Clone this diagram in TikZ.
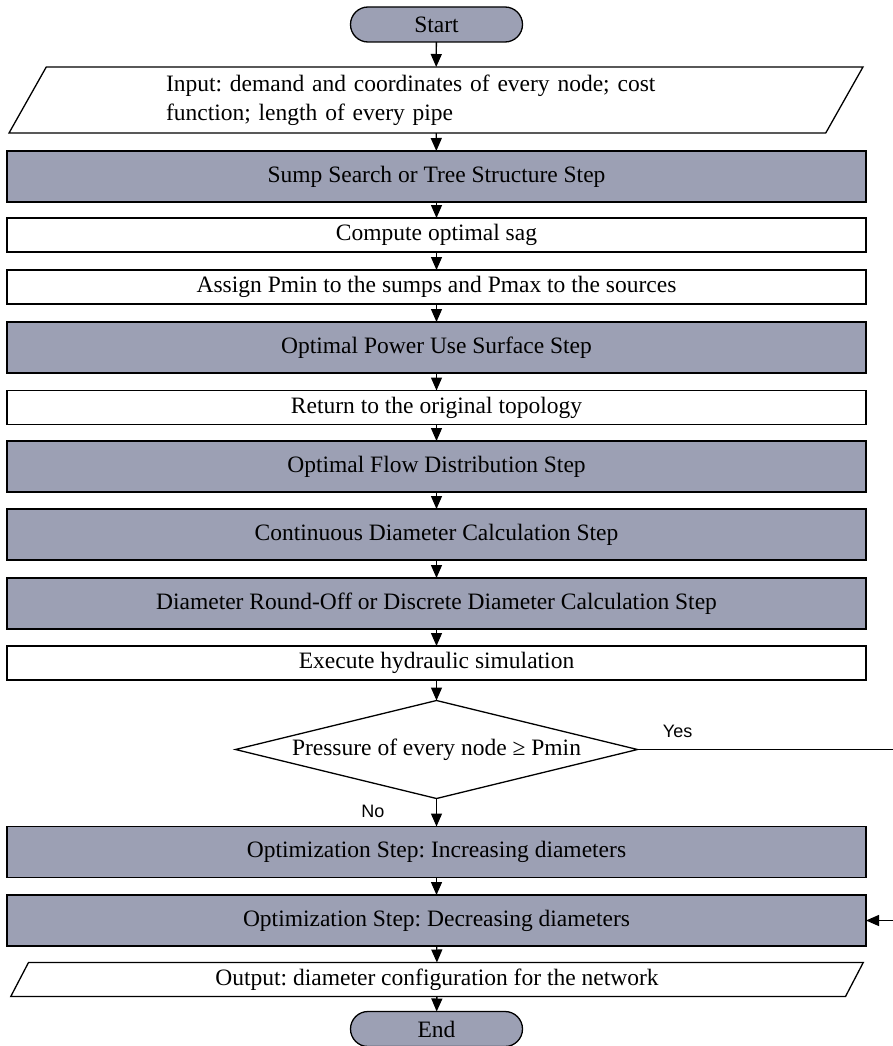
\documentclass[tikz,border=0pt]{standalone}
\usepackage{fontspec}
\setmainfont{Liberation Serif}
\newfontfamily\answerfont{Liberation Sans}
\usetikzlibrary{shapes.geometric,shapes.misc,arrows.meta}
\definecolor{stepgray}{RGB}{156,160,180}
\newcommand{\boxfont}{\frenchspacing\fontsize{23.5}{29}\selectfont}

\begin{document}
\begin{tikzpicture}[x=1pt,y=-1pt,inner sep=0pt,outer sep=0pt,line width=1.3pt,
>={Triangle[length=13pt,width=11pt]},
stepblock/.style={draw,rectangle,fill=stepgray,minimum width=859pt,minimum height=51pt,font=\boxfont},
plainblock/.style={draw,rectangle,fill=white,minimum width=859pt,minimum height=34pt,font=\boxfont},
ioblock/.style={draw,trapezium,trapezium stretches=true,fill=white,font=\boxfont},
termblock/.style={draw,rounded rectangle,fill=stepgray,minimum width=172pt,minimum height=35pt,font=\boxfont},
testblock/.style={draw,diamond,aspect=4.1,fill=white,minimum width=402pt,minimum height=98pt,font=\boxfont},
answer/.style={font=\answerfont\fontsize{18}{20}\selectfont}]
\useasboundingbox (0,0) rectangle (892,1046);
\draw (436.5,24.5) node[termblock] (start) {Start};
\draw (436,100) node[ioblock,trapezium left angle=63,trapezium right angle=117,minimum width=860pt,minimum height=66pt,text width=540pt,align=left] (input) {Input: demand and coordinates of every node; cost\\function; length of every pipe};
\draw (436.5,176.5) node[stepblock] (sump) {Sump Search or Tree Structure Step};
\draw (436.5,235) node[plainblock] (sag) {Compute optimal sag};
\draw (436.5,287) node[plainblock] (assign) {Assign Pmin to the sumps and Pmax to the sources};
\draw (436.5,347.5) node[stepblock] (power) {Optimal Power Use Surface Step};
\draw (436.5,407.5) node[plainblock] (topo) {Return to the original topology};
\draw (436.5,466.5) node[stepblock] (flow) {Optimal Flow Distribution Step};
\draw (436.5,534.5) node[stepblock] (cont) {Continuous Diameter Calculation Step};
\draw (436.5,603.5) node[stepblock] (round) {Diameter Round-Off or Discrete Diameter Calculation Step};
\draw (436.5,663) node[plainblock] (sim) {Execute hydraulic simulation};
\draw (436.5,749.5) node[testblock] (test) {Pressure of every node ≥ Pmin};
\draw (436.5,852) node[stepblock] (inc) {Optimization Step: Increasing diameters};
\draw (436.5,920.5) node[stepblock] (dec) {Optimization Step: Decreasing diameters};
\draw (437,979.5) node[ioblock,trapezium left angle=66,trapezium right angle=114,minimum width=857pt,minimum height=34pt] (output) {Output: diameter configuration for the network};
\draw (436.5,1029) node[termblock] (end) {End};
\coordinate (yesturn) at (905,749.5);
\draw[->] (start) -- (input);
\draw[->] (input) -- (sump);
\draw[->] (sump) -- (sag);
\draw[->] (sag) -- (assign);
\draw[->] (assign) -- (power);
\draw[->] (power) -- (topo);
\draw[->] (topo) -- (flow);
\draw[->] (flow) -- (cont);
\draw[->] (cont) -- (round);
\draw[->] (round) -- (sim);
\draw[->] (sim) -- (test);
\draw[->] (test) -- node[pos=.45,left=52pt,answer] {No} (inc);
\draw[->] (test.east) -- node[pos=.15,above=12pt,answer] {Yes} (yesturn) |- (dec.east);
\draw[->] (inc) -- (dec);
\draw[->] (dec) -- (output);
\draw[->] (output) -- (end);
\end{tikzpicture}
\end{document}
